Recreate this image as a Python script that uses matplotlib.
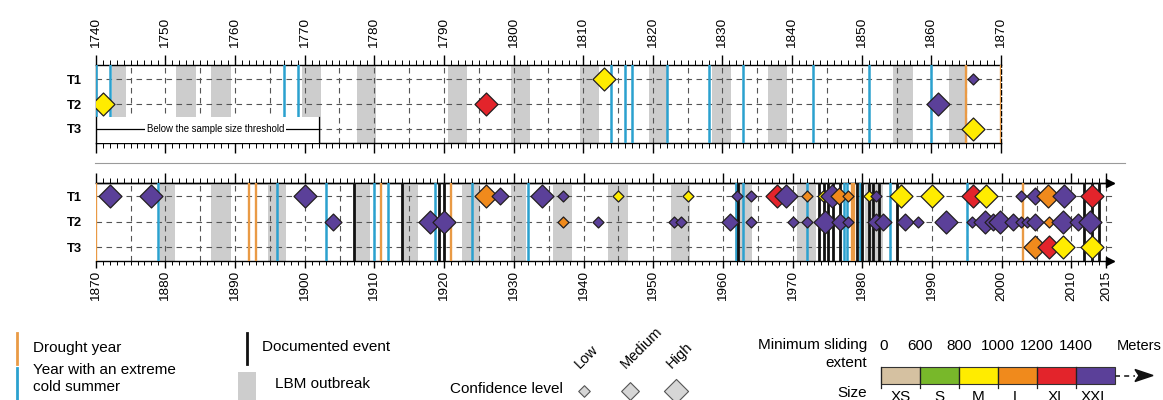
import numpy as np
import matplotlib.pyplot as plt
from matplotlib.patches import Rectangle, Polygon
from matplotlib.ticker import MultipleLocator, FixedLocator

plt.rcParams['font.family'] = ['Liberation Sans', 'DejaVu Sans']

# =========================
# data
# =========================
rows = [1, 2, 3]
row_labels = ['T1', 'T2', 'T3']

class_names = ['XS', 'S', 'M', 'L', 'XL', 'XXL']
class_colors = ['#d5c1a1', '#78b82a', '#ffec00', '#f08a1c', '#e3242b', '#5b4099']
class_bounds = ['0', '600', '800', '1000', '1200', '1400']
conf_levels = ['Low', 'Medium', 'High']

# 1740-1870
top_cold = [1740, 1742, 1767, 1769, 1814, 1816, 1817, 1822, 1828, 1833, 1843, 1851, 1860]
top_drought = [1865, 1870]
top_documented = []
top_lbm = [(1742.3, 1744.3), (1751.6, 1754.4), (1756.6, 1759.4), (1769.6, 1772.3),
           (1777.5, 1780.3), (1790.6, 1793.3), (1799.6, 1802.3), (1809.6, 1812.3),
           (1819.5, 1822.2), (1828.5, 1831.3), (1836.5, 1839.3), (1854.5, 1857.3),
           (1862.5, 1864.9)]
top_year = [1741, 1796, 1813, 1861, 1866, 1866]
top_row = [2, 2, 1, 2, 1, 3]
top_class = ['M', 'XL', 'M', 'XXL', 'XXL', 'M']
top_conf = ['High', 'High', 'High', 'High', 'Low', 'High']
threshold_end = 1772

# 1870-2015
bot_cold = [1879, 1896, 1903, 1910, 1912, 1918.7, 1924, 1932, 1961.8, 1962.9, 1972,
            1977.4, 1977.8, 1979.7, 1983.9, 1995]
bot_drought = [1870, 1892, 1893, 1911, 1921, 1978.5, 1978.8, 2003]
bot_documented = [1907, 1914, 1919.2, 1920, 1962.2, 1973.8, 1974.5, 1975, 1975.8, 1976.8,
                  1979.2, 1980, 1980.9, 1981.5, 1982.4, 1984.9, 2011.8, 2012.9, 2014.0]
bot_lbm = [(1879.2, 1881.4), (1886.6, 1889.4), (1894.7, 1897.3), (1907.1, 1909.3),
           (1914.1, 1916.3), (1922.5, 1925.1), (1929.6, 1931.8), (1935.6, 1938.3),
           (1943.5, 1946.3), (1952.5, 1955.3), (1961.7, 1964.2), (1970.6, 1973.4),
           (1980.4, 1983.0)]

bot_year = [1872, 1878, 1900, 1926, 1928, 1934, 1937, 1945, 1955, 1962, 1964, 1967.7, 1969,
            1972, 1974.3, 1975.7, 1976.7, 1977.9, 1981, 1982, 1985.6, 1990, 1995.8, 1997.7,
            2002.8, 2004.8, 2006.7, 2008.9, 2012.9,
            1904, 1918, 1920, 1937, 1942, 1953, 1954, 1961, 1964, 1970, 1972, 1974.6,
            1976.8, 1978, 1982, 1983, 1986.1, 1988, 1992, 1995.7, 1997.6, 1998.7, 1999.7,
            2001.65, 2002.7, 2003.6, 2004.8, 2006.8, 2008.8, 2011, 2012.65,
            2004.7, 2006.8, 2008.8, 2012.9]
bot_row = [1] * 29 + [2] * 31 + [3] * 4
bot_class = ['XXL', 'XXL', 'XXL', 'L', 'XXL', 'XXL', 'XXL', 'M', 'M', 'XXL', 'XXL', 'XL', 'XXL',
             'L', 'M', 'XXL', 'L', 'L', 'M', 'XXL', 'M', 'M', 'XL', 'M',
             'XXL', 'XXL', 'L', 'XXL', 'XL',
             'XXL', 'XXL', 'XXL', 'L', 'XXL', 'XXL', 'XXL', 'XXL', 'XXL', 'XXL', 'XXL', 'XXL',
             'XXL', 'XXL', 'XXL', 'XXL', 'XXL', 'XXL', 'XXL', 'XXL', 'XXL', 'XXL', 'XXL',
             'XXL', 'XXL', 'XXL', 'XXL', 'L', 'XXL', 'XXL', 'XXL',
             'L', 'XL', 'M', 'M']
bot_conf = ['High', 'High', 'High', 'High', 'Medium', 'High', 'Low', 'Low', 'Low', 'Low', 'Low',
            'High', 'High', 'Low', 'Low', 'High', 'Medium', 'Low', 'Low', 'Low', 'High', 'High',
            'High', 'High', 'Low', 'Medium', 'High', 'High', 'High',
            'Medium', 'High', 'High', 'Low', 'Low', 'Low', 'Low', 'Medium', 'Low', 'Low', 'Low',
            'High', 'Medium', 'Low', 'Medium', 'Medium', 'Medium', 'Low', 'High', 'Low', 'High',
            'Medium', 'High', 'Medium', 'Low', 'Low', 'Medium', 'Low', 'High', 'Medium', 'High',
            'High', 'High', 'High', 'High']

# =========================
# styles
# =========================
col_of = dict(zip(class_names, class_colors))
ms_of = {'Low': 5.6, 'Medium': 8.6, 'High': 11.7}
c_cold = '#2ba1cf'
c_drought = '#e99a45'
c_lbm = '#cdcdcd'
c_grid = '#555555'
dash = (0, (5, 4))


def draw_panel(ax, x0, x1, cold, drought, documented, lbm, years, rws, cls, conf):
    for a, b in lbm:
        ax.axvspan(a, b, color=c_lbm, lw=0, zorder=1)
    for r in rows:
        ax.axhline(r, color=c_grid, lw=0.8, ls=dash, zorder=1.5)
    for x in np.arange(x0 + 5, x1 + 0.1, 5):
        ax.axvline(x, color=c_grid, lw=0.8, ls=dash, zorder=1.5)
    for x in drought:
        ax.axvline(x, color=c_drought, lw=1.7, zorder=3)
    for x in cold:
        ax.axvline(x, color=c_cold, lw=1.8, zorder=3)
    for x in documented:
        ax.axvline(x, color='#111111', lw=2.0, zorder=3)
    for y, r, c, cf in zip(years, rws, cls, conf):
        ax.scatter(y, r, marker='D', s=ms_of[cf] ** 2, color=col_of[c],
                   edgecolor='#231f20', linewidth=0.9, zorder=5)
    ax.set_yticks(rows)
    ax.set_yticklabels(row_labels, fontweight='bold', fontsize=9.3)
    ax.tick_params(axis='y', length=0, pad=10)
    ax.xaxis.set_tick_params(labelsize=9.7, labelrotation=90)


fig = plt.figure(figsize=(11.63, 4.0), dpi=100)

# =========================
# top panel
# =========================
ax1 = fig.add_axes([95.7 / 1163, 1 - 143.3 / 400, 905.3 / 1163, 78.3 / 400])
ax1.set_xlim(1740, 1870)
ax1.set_ylim(3.58, 0.42)
draw_panel(ax1, 1740, 1865, top_cold, top_drought, top_documented, top_lbm,
           top_year, top_row, top_class, top_conf)

# below the sample size threshold
ax1.add_patch(Rectangle((1740, 2.51), threshold_end - 1740, 1.1, facecolor='white',
                        edgecolor='none', zorder=4))
ax1.plot([1740, 1740], [2.51, 3.58], color='k', lw=1.0, zorder=4.5)
ax1.plot([1740, threshold_end], [3, 3], color='k', lw=0.9, zorder=4.5)
ax1.plot([threshold_end, threshold_end], [2.51, 3.58], color='k', lw=0.9, zorder=4.5)
ax1.text(1757.2, 3, 'Below the sample size threshold', fontsize=6.9,
         ha='center', va='center', zorder=4.6,
         bbox=dict(facecolor='white', edgecolor='none', pad=1.2))

ax1.xaxis.set_major_locator(MultipleLocator(10))
ax1.xaxis.set_minor_locator(MultipleLocator(1))
ax1.tick_params(axis='x', which='both', top=True, bottom=True, labeltop=True,
                labelbottom=False, direction='out')
ax1.tick_params(axis='x', which='major', length=7, width=1.0, pad=5.5)
ax1.tick_params(axis='x', which='minor', length=3.5, width=0.7)
for s in ax1.spines.values():
    s.set_linewidth(1.0)
ax1.spines['right'].set_linestyle((0, (3, 2)))

# =========================
# bottom panel
# =========================
ax2 = fig.add_axes([95.7 / 1163, 1 - 260.7 / 400, 1017.6 / 1163, 78 / 400])
ax2.set_xlim(1870, 2016)
ax2.set_ylim(3.52, 0.48)
draw_panel(ax2, 1870, 2015, bot_cold, bot_drought, bot_documented, bot_lbm,
           bot_year, bot_row, bot_class, bot_conf)

major2 = list(range(1870, 2011, 10)) + [2015]
minor2 = list(range(1870, 2016))
ax2.xaxis.set_major_locator(FixedLocator(major2))
ax2.xaxis.set_minor_locator(FixedLocator(minor2))
ax2.tick_params(axis='x', which='major', length=5, width=1.0, pad=2.5, direction='out')
ax2.tick_params(axis='x', which='minor', length=3, width=0.7, direction='out')
ax2.spines['right'].set_visible(False)
ax2.spines['left'].set_visible(False)
for s in ax2.spines.values():
    s.set_linewidth(1.0)

sec = ax2.secondary_xaxis('top')
sec.xaxis.set_major_locator(FixedLocator(major2))
sec.xaxis.set_minor_locator(FixedLocator(minor2))
sec.tick_params(axis='x', which='major', length=7, width=1.0, labeltop=False, direction='out')
sec.tick_params(axis='x', which='minor', length=3.5, width=0.7, direction='out')
sec.spines['top'].set_linewidth(1.0)

for yy in [0, 1]:
    ax2.plot([0.997], [yy], marker='>', ms=6, color='k', transform=ax2.transAxes,
             clip_on=False, zorder=6)

# =========================
# legend (figure pixel coordinates)
# =========================
lg = fig.add_axes([0, 0, 1, 1], zorder=-1)
lg.set_xlim(0, 1163)
lg.set_ylim(400, 0)
lg.axis('off')

lg.plot([95, 1125], [163, 163], color='#9a9a9a', lw=0.8)

fs = 11
lg.plot([17, 17], [333, 364], color=c_drought, lw=2)
lg.text(33, 348, 'Drought year', fontsize=fs, va='center')
lg.plot([17, 17], [368, 400], color=c_cold, lw=2)
lg.text(33, 370, 'Year with an extreme', fontsize=fs, va='center')
lg.text(33, 387, 'cold summer', fontsize=fs, va='center')

lg.plot([247, 247], [333, 364], color='#111111', lw=2)
lg.text(262, 347, 'Documented event', fontsize=fs, va='center')
lg.add_patch(Rectangle((238, 372), 18, 28, facecolor=c_lbm, edgecolor='none'))
lg.text(275, 384, 'LBM outbreak', fontsize=fs, va='center')

lg.text(450, 389, 'Confidence level', fontsize=fs, va='center')
for i, lev in enumerate(conf_levels):
    cx = 584 + 46 * i
    lg.scatter(cx, 391, marker='D', s=(ms_of[lev] * 1.05) ** 2, color='#d6d6d6',
               edgecolor='#555555', linewidth=0.8)
    lg.text(cx - 2, 371, lev, fontsize=10.5, rotation=45, rotation_mode='anchor',
            ha='left', va='bottom')

lg.text(867, 345, 'Minimum sliding', fontsize=fs, ha='right', va='center')
lg.text(867, 363, 'extent', fontsize=fs, ha='right', va='center')
lg.text(867, 393, 'Size', fontsize=fs, ha='right', va='center')

bar_x0, seg_w, bar_y0, bar_h = 881, 39, 367, 17
for i, (nm, cc) in enumerate(zip(class_names, class_colors)):
    lg.add_patch(Rectangle((bar_x0 + i * seg_w, bar_y0), seg_w, bar_h, facecolor=cc,
                           edgecolor='#333333', lw=0.8))
    lg.text(bar_x0 + (i + 0.5) * seg_w, 390, nm, fontsize=fs, ha='center', va='top')
for i, b in enumerate(class_bounds):
    bx = bar_x0 + i * seg_w
    lg.plot([bx, bx], [bar_y0, bar_y0 + bar_h + 4], color='#222222', lw=0.9)
    lg.text(bx + (3 if i == 0 else 0), 346, b, fontsize=fs, ha='center', va='center')
lg.text(1139, 346, 'Meters', fontsize=10.5, ha='center', va='center')

bar_end = bar_x0 + 6 * seg_w
ym = bar_y0 + bar_h / 2
lg.plot([bar_end, bar_end + 20], [ym, ym], color='#222222', lw=1.2, ls=(0, (3, 2.5)))
lg.add_patch(Polygon([[bar_end + 20, ym - 6], [bar_end + 38, ym], [bar_end + 20, ym + 6],
                      [bar_end + 24, ym]], closed=True, color='#111111'))

fig.savefig('out.png', dpi=100)
